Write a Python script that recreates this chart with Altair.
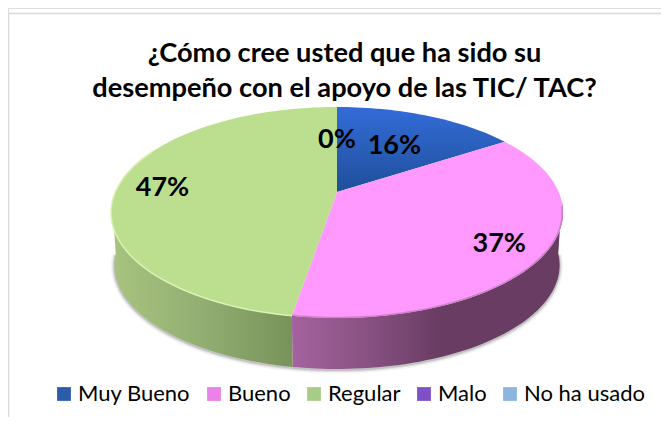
import math
import altair as alt
import pandas as pd

# Data
categories = ["Muy Bueno", "Bueno", "Regular", "Malo", "No ha usado"]
counts = [3, 7, 9, 0, 0]
legend_colors = ["#2C5DAA", "#E982E9", "#A8CB86", "#7F50C6", "#8CB6E0"]
top_colors = ["#2A5FBE", "#FF99FF", "#BBDF8E"]
labels_shown = ["16%", "37%", "47%", "0%"]
label_slices = [0, 1, 2, 3]
label_radii = [0.6, 0.8, 0.8, 0.6]
title_lines = ["¿Cómo cree usted que ha sido su", "desempeño con el apoyo de las TIC/ TAC?"]

W, H = 653, 409
OX, OY = 8, 8   # page margin
CX, CY = 337 - OX, 192 - OY
A, B, K = 221.7, 101.5, 0.194
DEPTH, SHRINK = 53, 0.985
total = sum(counts)


def project(phi, r=1.0, depth=0.0, shrink=1.0):
    u = r * math.sin(math.radians(phi))
    v = r * math.cos(math.radians(phi))
    d = 1 + K * v
    return CX + shrink * A * u / d, CY + depth - shrink * B * v / d


def arc(a0, a1, **kw):
    n = max(2, int(abs(a1 - a0) / 1.5))
    return [project(a0 + (a1 - a0) * i / n, **kw) for i in range(n + 1)]


def frame(points):
    return pd.DataFrame({"x": [p[0] for p in points], "y": [p[1] for p in points], "i": range(len(points))})


edges = [0.0]
for c in counts:
    edges.append(edges[-1] + 360 * c / total)

sx = alt.Scale(domain=[0, W], range=[0, W])
sy = alt.Scale(domain=[0, H], range=[0, H])
enc = dict(
    x=alt.X("x:Q", scale=sx, axis=None),
    y=alt.Y("y:Q", scale=sy, axis=None),
    order=alt.Order("i:Q"),
)


def poly(points, **mark):
    return alt.Chart(frame(points)).mark_line(interpolate="linear", **mark).encode(**enc)


def grad(stops, x2=1, y2=0):
    return alt.Gradient(
        gradient="linear", x1=0, y1=0, x2=x2, y2=y2,
        stops=[alt.GradientStop(offset=o, color=c) for o, c in stops],
    )


layers = []

# Frame lines
layers.append(alt.Chart(pd.DataFrame({"a": [0]})).mark_rule(color="#D9D9D9", strokeWidth=1.5).encode(
    x=alt.value(0.5), x2=alt.value(W), y=alt.value(5.5), y2=alt.value(5.5)))
layers.append(alt.Chart(pd.DataFrame({"a": [0]})).mark_rule(color="#D9D9D9", strokeWidth=1.5).encode(
    x=alt.value(0.5), y=alt.value(5.5), y2=alt.value(H)))

# Soft shadow beneath the wall
for w, op in [(7, 0.06), (4, 0.12), (2, 0.2)]:
    layers.append(poly(arc(95, 265, depth=DEPTH + 1, shrink=SHRINK), stroke="#555555", strokeWidth=w, opacity=op, fill="transparent"))

# Side wall, pink then green
pink_end = edges[2]
wall_pink = arc(95, pink_end) + arc(pink_end, 95, depth=DEPTH, shrink=SHRINK)
wall_green = arc(pink_end, 265) + arc(265, pink_end, depth=DEPTH, shrink=SHRINK)
layers.append(poly(wall_pink, stroke=None, fill=grad([(0, "#A5629F"), (0.3, "#85507F"), (0.55, "#693C63"), (1, "#693C63")])))
layers.append(poly(wall_green, stroke=None, fill=grad([(0, "#A8C47F"), (0.5, "#93AE72"), (1, "#78935A")])))

# Top faces
top_fills = [
    grad([(0, "#336CD8"), (1, "#1F4F9A")], x2=0, y2=1),
    top_colors[1],
    top_colors[2],
]
for idx, fill in enumerate(top_fills):
    pts = [(CX, CY)] + arc(edges[idx], edges[idx + 1]) + [(CX, CY)]
    layers.append(poly(pts, stroke=None, fill=fill))

# Rim highlights
layers.append(poly(arc(edges[2], 296), stroke="#D9F3B4", strokeWidth=1.5, fill="transparent"))
layers.append(poly(arc(98, edges[2], r=0.997), stroke="#B070A8", strokeWidth=1.5, opacity=0.6, fill="transparent"))

# Percent labels
lab = []
for t, s, r in zip(labels_shown, label_slices, label_radii):
    mid = (edges[s] + edges[s + 1]) / 2
    if s >= 3:
        mid = 0.0
    x, y = project(mid, r=r)
    lab.append({"x": x, "y": y, "t": t})
layers.append(alt.Chart(pd.DataFrame(lab)).mark_text(
    font="Lato", fontWeight="bold", fontSize=27, color="black", align="center", baseline="middle", dy=3
).encode(x=alt.X("x:Q", scale=sx, axis=None), y=alt.Y("y:Q", scale=sy, axis=None), text="t:N"))

# Legend
leg = pd.DataFrame({"name": categories, "x": [CX] * 5, "y": [CY] * 5})
layers.append(alt.Chart(leg).mark_point(filled=True, size=0, opacity=0).encode(
    x=alt.X("x:Q", scale=sx, axis=None),
    y=alt.Y("y:Q", scale=sy, axis=None),
    fill=alt.Fill("name:N", sort=categories,
                  scale=alt.Scale(domain=categories, range=legend_colors),
                  legend=alt.Legend(
                      title=None, orient="none", legendX=45, legendY=375, direction="horizontal",
                      columns=5, gridAlign="none", columnPadding=12, symbolType="square", symbolSize=190,
                      symbolOpacity=1, symbolStrokeWidth=0, labelFont="Lato", labelFontSize=22, labelColor="black",
                      labelOffset=3, labelLimit=200, symbolOffset=0,
                  )),
))

chart = alt.layer(*layers).properties(
    width=W, height=H, padding=0,
    autosize=alt.AutoSizeParams(type="none"),
    title=alt.TitleParams(
        text=title_lines, font="Lato", fontWeight="bold", fontSize=27.2, color="black",
        anchor="middle", orient="top", frame="group", baseline="top", dy=95, dx=10, lineHeight=35, offset=0,
    ),
).configure_view(stroke=None).configure(background="white")

chart.save("out.html", embed_options={"renderer": "svg", "actions": False})
